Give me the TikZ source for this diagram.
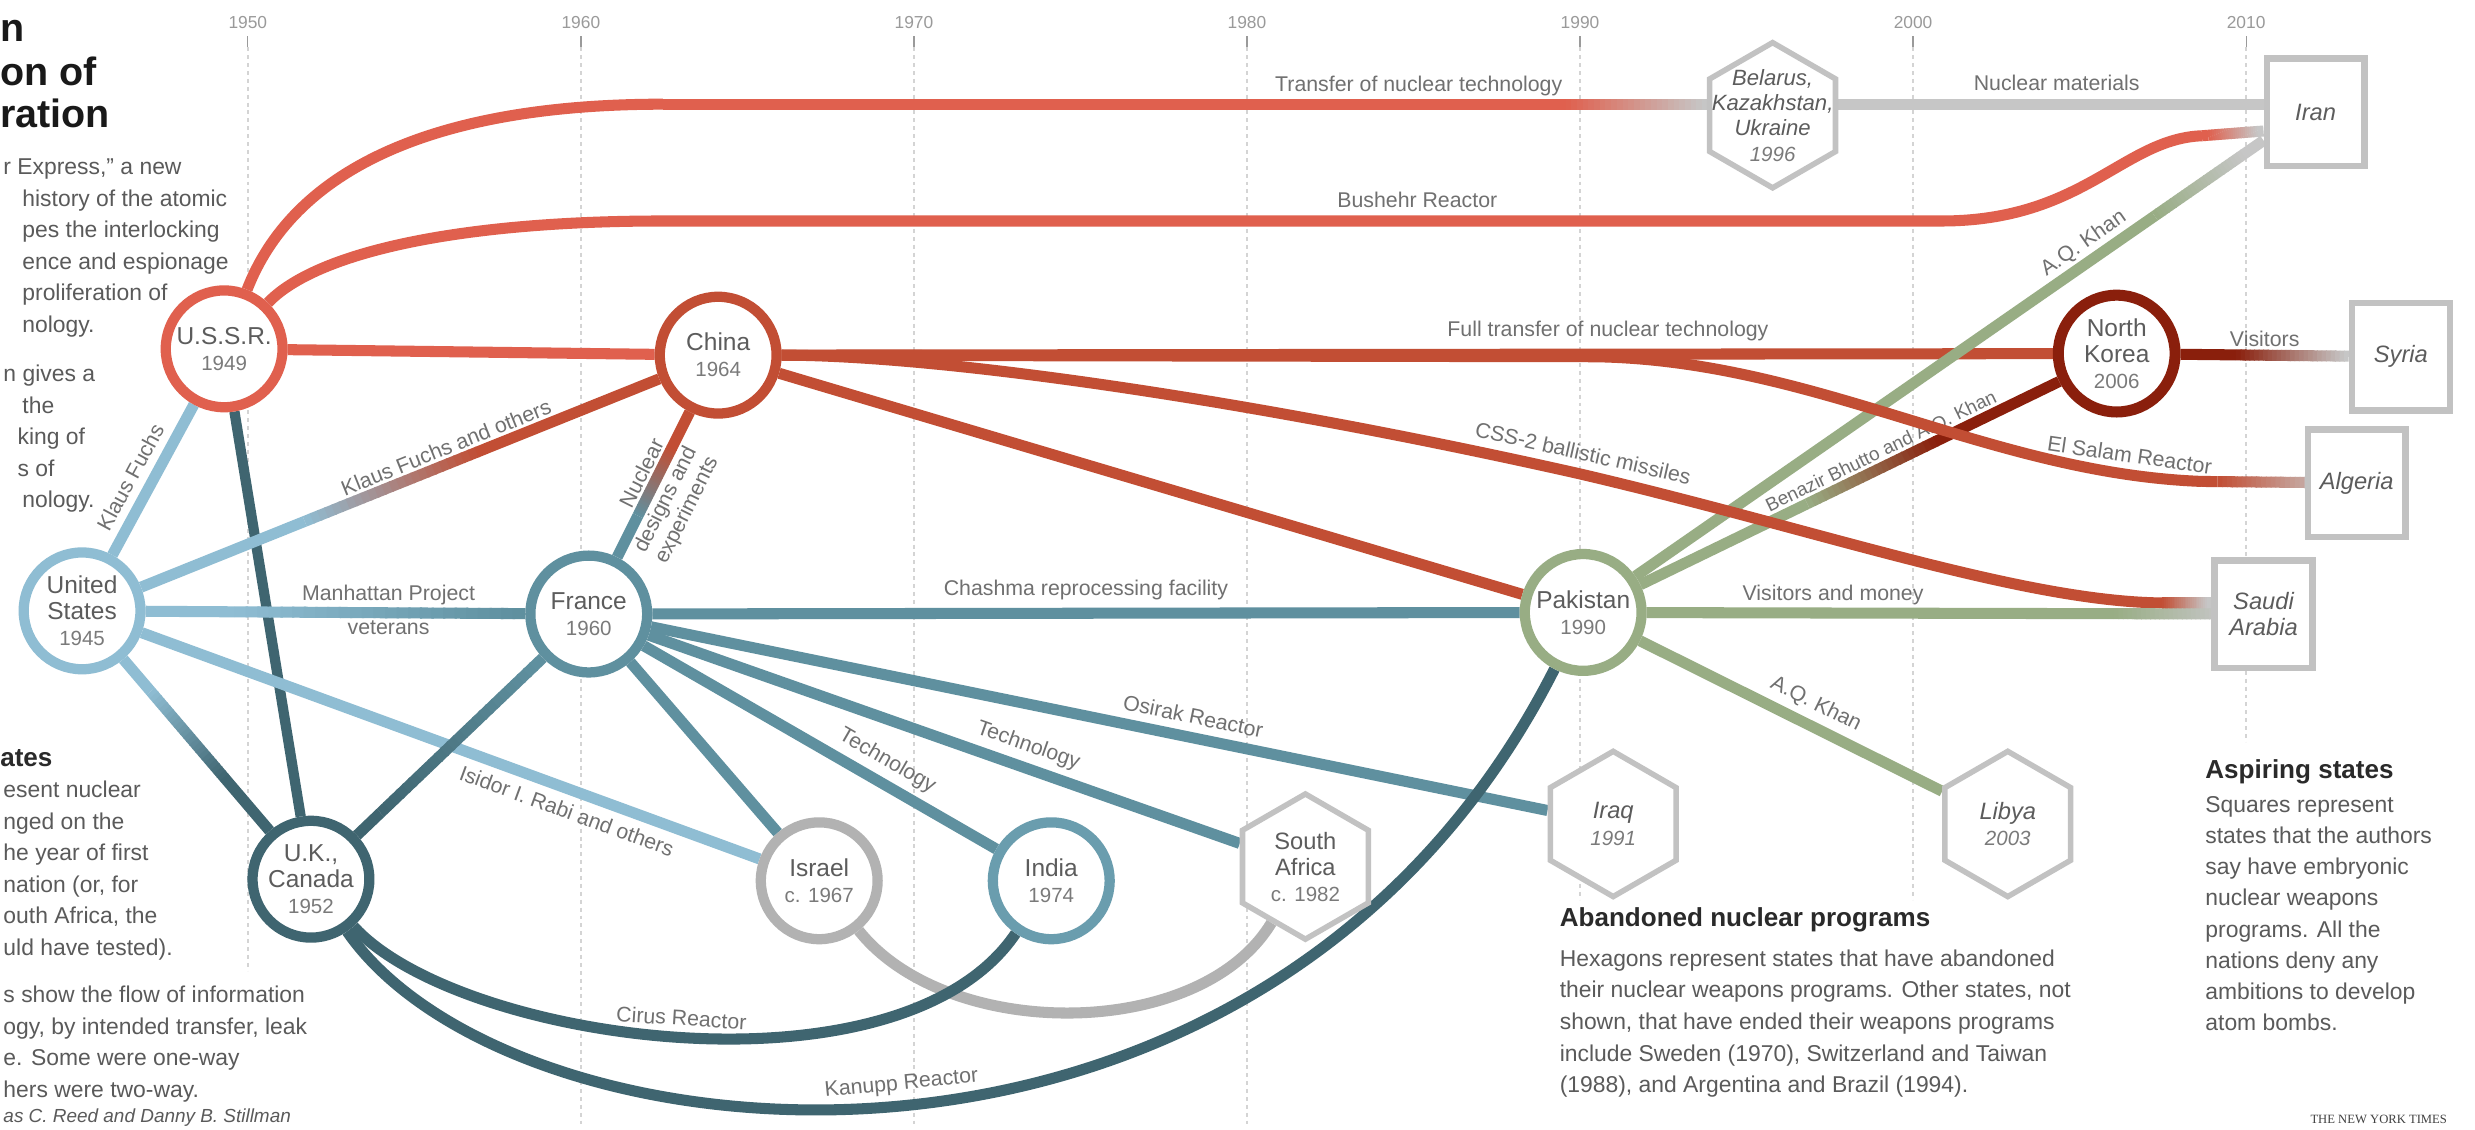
\documentclass[tikz,border=0pt]{standalone}
\usepackage{fontspec}
\setmainfont{Liberation Sans}
\newfontfamily\nytfont{Liberation Serif}
\usetikzlibrary{calc,shapes.geometric,backgrounds}

\definecolor{ussrc}{HTML}{E0604E}
\definecolor{chinac}{HTML}{C24E34}
\definecolor{nkc}{HTML}{8A1F0C}
\definecolor{usc}{HTML}{8FBDD3}
\definecolor{francec}{HTML}{5F909F}
\definecolor{ukc}{HTML}{3F6570}
\definecolor{indiac}{HTML}{6A9DAE}
\definecolor{israelc}{HTML}{B2B2B2}
\definecolor{pakc}{HTML}{98AD84}
\definecolor{grayc}{HTML}{C6C6C6}
\definecolor{boxc}{HTML}{C2C2C2}
\definecolor{lblc}{HTML}{707070}
\definecolor{nodetxt}{HTML}{5C5C5C}
\definecolor{yearin}{HTML}{7A7A7A}
\definecolor{bodytxt}{HTML}{5A5A5A}
\definecolor{headtxt}{HTML}{2A2A2A}
\definecolor{yearc}{HTML}{9A9A9A}
\definecolor{gridc}{HTML}{D4D4D4}

\newcommand\yr[1]{{\fontsize{13}{15}\selectfont\color{yearin}#1}}

% straight connector with a colour gradient between fractions #5 and #6
\newcommand\gradlink[7]{%
  \draw[line width=#7, draw=#3] (#1) -- ($(#1)!#5!(#2)$);
  \foreach \k in {0,...,23}{%
    \pgfmathsetmacro\ta{#5+(#6-#5)*\k/24}%
    \pgfmathsetmacro\tb{#5+(#6-#5)*(\k+1.2)/24}%
    \pgfmathtruncatemacro\pc{100*(\k+0.5)/24}%
    \draw[line width=#7, draw=#4!\pc!#3] ($(#1)!\ta!(#2)$) -- ($(#1)!\tb!(#2)$);
  }%
  \draw[line width=#7, draw=#4] ($(#1)!#6!(#2)$) -- (#2);
}

\begin{document}
\begin{tikzpicture}[x=1pt,y=-1pt,
  state/.style={circle, line width=6.5pt, fill=white, minimum size=74pt, inner sep=0pt,
    align=center, text=nodetxt, font=\fontsize{15.5}{16.5}\selectfont},
  hexa/.style={regular polygon, regular polygon sides=6, regular polygon rotate=30,
    minimum size=92pt, draw=boxc, line width=3.5pt, fill=white, inner sep=0pt},
  hextxt/.style={align=center, text=nodetxt, font=\fontsize{15}{16.5}\selectfont\itshape, inner sep=0pt},
  sq/.style={rectangle, draw=boxc, line width=4pt, fill=white, minimum width=62pt,
    minimum height=68pt, align=center, text=nodetxt, font=\fontsize{15}{16.5}\selectfont\itshape},
  elbl/.style={font=\fontsize{13.5}{15}\selectfont, text=lblc, inner sep=1pt},
  link/.style={line width=7pt},
  body/.style={anchor=north west, align=left, inner sep=0pt, text=bodytxt,
    font=\fontsize{14.5}{20}\selectfont},
  head/.style={anchor=west, inner sep=0pt, text=headtxt, font=\fontsize{16.5}{18}\selectfont\bfseries},
  ttl/.style={anchor=base west, inner sep=0pt, text=black!90, font=\fontsize{25}{27}\selectfont\bfseries}
]
\begin{pgfonlayer}{background}
\fill[white] (0,0) rectangle (1568,715.3);
\end{pgfonlayer}
\useasboundingbox (0,0) rectangle (1568,715.3);

% ---------------- nodes ----------------
\node[state, draw=ussrc] (ussr) at (142,221) {U.S.S.R.\\\yr{1949}};
\node[state, draw=usc] (us) at (52,387) {United\\States\\\yr{1945}};
\node[state, draw=chinac] (china) at (455,225) {China\\\yr{1964}};
\node[state, draw=francec] (france) at (373,389) {France\\\yr{1960}};
\node[state, draw=ukc] (uk) at (197,557) {U.K.,\\Canada\\\yr{1952}};
\node[state, draw=israelc] (israel) at (519,558) {Israel\\\yr{c. 1967}};
\node[state, draw=indiac] (india) at (666,558) {India\\\yr{1974}};
\node[state, draw=pakc] (pakistan) at (1003,388) {Pakistan\\\yr{1990}};
\node[state, draw=nkc, line width=7pt] (nk) at (1341,224) {North\\Korea\\\yr{2006}};

\node[hexa] (sa) at (827,549) {};
\node[hextxt, font=\fontsize{15}{16.5}\selectfont] (saT) at (sa) {South\\Africa\\\yr{c. 1982}};
\node[hexa] (belarus) at (1123,73) {};
\node[hextxt, font=\fontsize{14}{16}\selectfont\itshape] (belarusT) at (belarus) {Belarus,\\Kazakhstan,\\Ukraine\\\yr{1996}};
\node[hexa] (iraq) at (1022,522) {};
\node[hextxt] (iraqT) at (iraq) {Iraq\\\yr{1991}};
\node[hexa] (libya) at (1272,522) {};
\node[hextxt] (libyaT) at (libya) {Libya\\\yr{2003}};

\node[sq] (iran) at (1467,71) {Iran};
\node[sq] (syria) at (1521,226) {Syria};
\node[sq] (algeria) at (1493,306) {Algeria};
\node[sq] (saudi) at (1434,389) {Saudi\\Arabia};

\coordinate (belW) at ($(belarus.center)+(-38,-7)$);
\coordinate (belE) at ($(belarus.center)+(38,-7)$);
\coordinate (iranA) at ($(iran.west)+(0,-5)$);
\coordinate (iranB) at ($(iran.west)+(0,12)$);
\coordinate (iranC) at ($(iran.west)+(0,18)$);
\coordinate (saudiA) at ($(saudi.west)+(0,-7)$);

% ---------------- connectors ----------------
\begin{pgfonlayer}{background}
\foreach \yv/\xv/\ye in {1950/157/615,1960/368/712,1970/579/712,1980/790/712,1990/1001/570,2000/1212/570,2010/1423/470}{
  \node[font=\fontsize{11}{12}\selectfont, text=yearc, inner sep=0pt] (yr\yv) at (\xv,14) {\yv};
  \draw[yearc, line width=0.8pt] (\xv,23) -- (\xv,30);
  \draw[gridc, line width=1pt, dash pattern=on 2.5pt off 2.5pt] (\xv,30) -- (\xv,\ye);
}

% U.S.S.R. to Belarus group and Iran
\draw[link, draw=ussrc] (ussr) .. controls (185,110) and (270,66) .. (420,66) coordinate (trA);
\gradlink{trA}{belW}{ussrc}{grayc}{0.86}{0.99}{7pt}
\path (trA) -- node[elbl, above=4pt, pos=0.72] {Transfer of nuclear technology} (belW);
\draw[link, draw=grayc] (belE) -- node[elbl, above=4pt, pos=0.52] {Nuclear materials} (iranA);

\draw[link, draw=ussrc] (ussr) .. controls (200,160) and (290,140) .. (420,140)
  -- node[elbl, above=4pt, pos=0.59] {Bushehr Reactor} (1230,140)
  .. controls (1320,140) and (1345,88) .. (1395,86) coordinate (bushA);
\gradlink{bushA}{iranB}{ussrc}{grayc}{0.1}{0.9}{7pt}

\draw[link, draw=ussrc] (ussr) -- (china);
\draw[link, draw=ukc, line width=6.5pt] (ussr) -- (uk);

% China
\draw[link, draw=chinac] (china) -- node[elbl, above=4pt, pos=0.65] {Full transfer of nuclear technology} (nk);

% Pakistan to Iran / North Korea
\gradlink{pakistan}{iranC}{pakc}{grayc}{0.84}{0.97}{7pt}
\path (pakistan) -- node[elbl, sloped, above=4pt, pos=0.73] {A.Q. Khan} (iranC);
\path (pakistan) -- node[elbl, font=\fontsize{12}{14}\selectfont, sloped, above=2pt, pos=0.59] {Benazir Bhutto and A.Q. Khan} (nk);
\gradlink{pakistan}{nk}{pakc}{nkc}{0.42}{0.66}{7pt}

\draw[link, draw=chinac] (china) -- (1010,226) .. controls (1150,228) and (1260,300) ..
  node[elbl, sloped, above=3pt, pos=0.88] {El Salam Reactor} (1395,305) coordinate (elA);
\gradlink{elA}{algeria}{chinac}{grayc}{0.1}{0.85}{7pt}

\draw[link, draw=chinac] (china) .. controls (600,225) and (800,255) ..
  node[elbl, sloped, above=4pt, pos=1] {CSS-2 ballistic missiles} (1000,300)
  .. controls (1150,335) and (1280,381) .. (1370,382) coordinate (cssA);
\gradlink{cssA}{saudiA}{chinac}{grayc}{0.0}{0.9}{7pt}

\draw[link, draw=chinac] (china) -- (pakistan);

% United States
\draw[link, draw=usc] (us) -- node[elbl, sloped, above=4pt, pos=0.45] {Klaus Fuchs} (ussr);
\gradlink{us}{china}{usc}{chinac}{0.35}{0.62}{7pt}
\path (us) -- node[elbl, sloped, above=4pt, pos=0.6] {Klaus Fuchs and others} (china);
\gradlink{us}{france}{usc}{francec}{0.3}{0.85}{7pt}
\path (us) -- node[elbl, above=4pt, pos=0.64] {Manhattan Project} node[elbl, below=4pt, pos=0.64] {veterans} (france);
\draw[link, draw=usc] (us) -- node[elbl, sloped, below=4pt, pos=0.7] {Isidor I. Rabi and others} (israel);
\gradlink{us}{uk}{usc}{ukc}{0.3}{0.62}{7pt}

% U.K. and France
\gradlink{uk}{france}{ukc}{francec}{0.25}{0.8}{7pt}
\gradlink{france}{china}{francec}{chinac}{0.38}{0.64}{7pt}
\path (france) -- node[elbl, sloped, above=4pt, pos=0.53] {Nuclear}
  node[elbl, sloped, below=4pt, pos=0.45, align=center] {designs and\\experiments} (china);
\draw[link, draw=francec] (france) -- node[elbl, above=4pt, pos=0.5] {Chashma reprocessing facility} (pakistan);
\draw[link, draw=francec] (france) -- node[elbl, sloped, above=4pt, pos=0.6] {Osirak Reactor} (iraq);
\draw[link, draw=francec] (france) -- node[elbl, sloped, above=3pt, pos=0.63] {Technology} (sa);
\draw[link, draw=francec] (france) -- node[elbl, sloped, above=3pt, pos=0.66] {Technology} (india);
\draw[link, draw=francec] (france) -- (israel);

\draw[link, draw=israelc] (israel) .. controls (600,660) and (760,660) .. (sa);
\draw[link, draw=ukc] (uk) .. controls (290,660) and (570,700) ..
  node[elbl, sloped, above=3pt, pos=0.5] {Cirus Reactor} (india);
\draw[link, draw=ukc] (uk) .. controls (325,742) and (800,788) ..
  node[elbl, sloped, above=3pt, pos=0.5] {Kanupp Reactor} (pakistan);

% Pakistan and North Korea outwards
\gradlink{pakistan}{saudi}{pakc}{grayc}{0.78}{0.94}{7pt}
\path (pakistan) -- node[elbl, above=4pt, pos=0.33] {Visitors and money} (saudi);
\draw[link, draw=pakc] (pakistan) -- node[elbl, sloped, above=3pt, pos=0.55] {A.Q. Khan} (libya);
\gradlink{nk}{syria}{nkc}{grayc}{0.42}{0.8}{7pt}
\path (nk) -- node[elbl, above=4pt, pos=0.5] {Visitors} (syria);
\end{pgfonlayer}

% ---------------- texts ----------------
\node[ttl] (t1) at (0,26) {n};
\node[ttl] (t2) at (0,54) {on of};
\node[ttl] (t3) at (0,81) {ration};

\node[body] (p1) at (2,100.5) {r Express,” a new\\\hspace*{12pt}history of the atomic\\\hspace*{12pt}pes the interlocking\\\hspace*{12pt}ence and espionage\\\hspace*{12pt}proliferation of\\\hspace*{12pt}nology.};
\node[body] (p2) at (2,231) {n gives a\\\hspace*{12pt}the\\\hspace*{9pt}king of\\\hspace*{9pt}s of\\\hspace*{12pt}nology.};

\node[head] (h1) at (0,480) {ates};
\node[body] (p3) at (2,494.5) {esent nuclear\\nged on the\\he year of first\\nation (or, for\\outh Africa, the\\uld have tested).};
\node[body] (p4) at (2,624.5) {s show the flow of information\\ogy, by intended transfer, leak\\e. Some were one-way\\hers were two-way.};
\node[anchor=west, inner sep=0pt, text=bodytxt, font=\fontsize{12}{14}\selectfont\itshape] (cred) at (2,708) {as C. Reed and Danny B. Stillman};

\node[head] (h2) at (988,583) {Abandoned nuclear programs};
\node[body] (p5) at (988,601.5) {Hexagons represent states that have abandoned\\their nuclear weapons programs. Other states, not\\shown, that have ended their weapons programs\\include Sweden (1970), Switzerland and Taiwan\\(1988), and Argentina and Brazil (1994).};

\node[head] (h3) at (1397,489) {Aspiring states};
\node[body, font=\fontsize{14.5}{19.7}\selectfont] (p6) at (1397,504.5) {Squares represent\\states that the authors\\say have embryonic\\nuclear weapons\\programs. All the\\nations deny any\\ambitions to develop\\atom bombs.};

\node[inner sep=0pt, text=black!75, font=\nytfont\fontsize{8}{9}\selectfont] (nyt) at (1507,709) {THE NEW YORK TIMES};
\end{tikzpicture}
\end{document}
